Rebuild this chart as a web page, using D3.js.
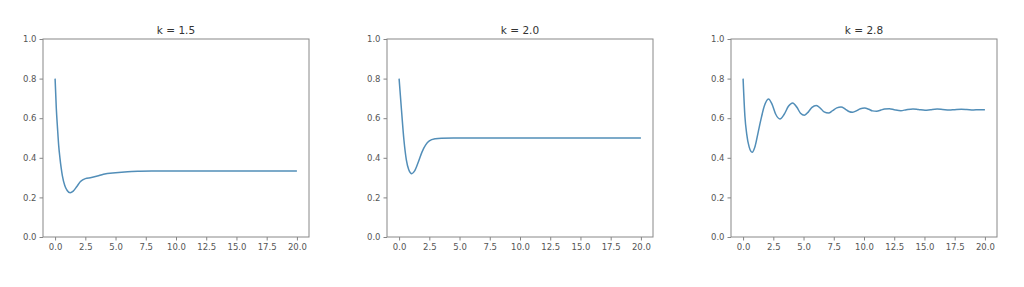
<!DOCTYPE html>
<html>
<head>
<meta charset="utf-8">
<script src="https://cdn.jsdelivr.net/npm/d3@7"></script>
<style>
  body { margin: 0; background: #fff; }
  text { font-family: "DejaVu Sans", sans-serif; }
</style>
</head>
<body>
<div id="chart"></div>
<script>
// titles of the three panels
const titles = ["k = 1.5", "k = 2.0", "k = 2.8"];

// curve values: t and y per panel
const t1 = [0, 0.1, 0.2, 0.3, 0.4, 0.5, 0.6, 0.8, 1.0, 1.25, 1.5, 1.8, 2.1, 2.5, 3.0, 3.5, 4.0, 5.0, 6.0, 7.0, 8.0, 10.0, 20.0];
const y1 = [0.80, 0.65, 0.55, 0.46, 0.40, 0.35, 0.31, 0.26, 0.235, 0.224, 0.232, 0.255, 0.28, 0.295, 0.300, 0.308, 0.317, 0.325, 0.330, 0.332, 0.333, 0.333, 0.333];

const t2 = [0, 0.2, 0.4, 0.6, 0.8, 1.05, 1.3, 1.6, 1.9, 2.2, 2.5, 3.0, 3.5, 4.5, 20.0];
const y2 = [0.80, 0.64, 0.49, 0.39, 0.34, 0.32, 0.335, 0.38, 0.43, 0.465, 0.485, 0.496, 0.499, 0.5, 0.5];

const t3 = [0, 0.15, 0.3, 0.5, 0.75, 1.0, 1.25, 1.5, 1.75, 2.1, 2.4, 2.7, 3.05, 3.4, 3.75, 4.1, 4.45, 4.75, 5.07, 5.4, 5.7, 6.05, 6.4, 6.7, 7.07, 7.4, 7.75, 8.1, 8.45, 8.75, 9.07, 9.4, 9.7, 10.05, 10.4, 10.7, 11.05, 11.4, 11.7, 12.1, 12.5, 13.05, 13.5, 14.05, 14.5, 15.05, 15.5, 16.05, 16.5, 17.05, 17.5, 18.05, 18.5, 19.05, 19.5, 20.0];
const y3 = [0.80, 0.61, 0.52, 0.455, 0.428, 0.46, 0.53, 0.60, 0.66, 0.697, 0.67, 0.62, 0.596, 0.62, 0.66, 0.677, 0.655, 0.625, 0.615, 0.632, 0.655, 0.664, 0.65, 0.632, 0.626, 0.638, 0.652, 0.656, 0.646, 0.634, 0.630, 0.638, 0.648, 0.651, 0.645, 0.637, 0.635, 0.641, 0.647, 0.648, 0.643, 0.638, 0.643, 0.647, 0.644, 0.640, 0.643, 0.646, 0.644, 0.641, 0.643, 0.645, 0.644, 0.642, 0.643, 0.643];

// axis ticks
const xTicks = [0, 2.5, 5, 7.5, 10, 12.5, 15, 17.5, 20];
const yTicks = [0, 0.2, 0.4, 0.6, 0.8, 1.0];

const panels = [
  { title: titles[0], t: t1, y: y1, left: 43 },
  { title: titles[1], t: t2, y: y2, left: 387 },
  { title: titles[2], t: t3, y: y3, left: 731 }
];

const width = 1024, height = 287;
const plotW = 266, plotTop = 39, plotBottom = 237;

const svg = d3.select("#chart").append("svg")
  .attr("width", width)
  .attr("height", height);

panels.forEach(p => {
  const x = d3.scaleLinear().domain([-1, 21]).range([p.left, p.left + plotW]);
  const y = d3.scaleLinear().domain([0, 1]).range([plotBottom, plotTop]);

  const g = svg.append("g");

  // the curve
  const pts = p.t.map((t, i) => [t, p.y[i]]);
  g.append("path")
    .datum(pts)
    .attr("fill", "none")
    .attr("stroke", "#528eb8")
    .attr("stroke-width", 1.5)
    .attr("d", d3.line().x(d => x(d[0])).y(d => y(d[1])).curve(d3.curveMonotoneX));

  // axes
  const xa = g.append("g")
    .attr("transform", `translate(0,${plotBottom})`)
    .call(d3.axisBottom(x).tickValues(xTicks).tickFormat(d3.format(".1f")).tickSizeOuter(0).tickSize(3.5).tickPadding(3));
  const ya = g.append("g")
    .attr("transform", `translate(${p.left},0)`)
    .call(d3.axisLeft(y).tickValues(yTicks).tickFormat(d3.format(".1f")).tickSizeOuter(0).tickSize(3.5).tickPadding(3));
  [xa, ya].forEach(a => {
    a.select(".domain").remove();
    a.selectAll("line").attr("stroke", "#666").attr("stroke-width", 0.8);
    a.selectAll("text").attr("fill", "#555").style("font-size", "8.5px");
  });

  // frame
  g.append("rect")
    .attr("x", p.left).attr("y", plotTop)
    .attr("width", plotW).attr("height", plotBottom - plotTop)
    .attr("fill", "none")
    .attr("stroke", "#888")
    .attr("stroke-width", 1);

  // title
  g.append("text")
    .attr("x", p.left + plotW / 2)
    .attr("y", plotTop - 5)
    .attr("text-anchor", "middle")
    .attr("fill", "#333")
    .style("font-size", "10.5px")
    .text(p.title);
});
</script>
</body>
</html>
